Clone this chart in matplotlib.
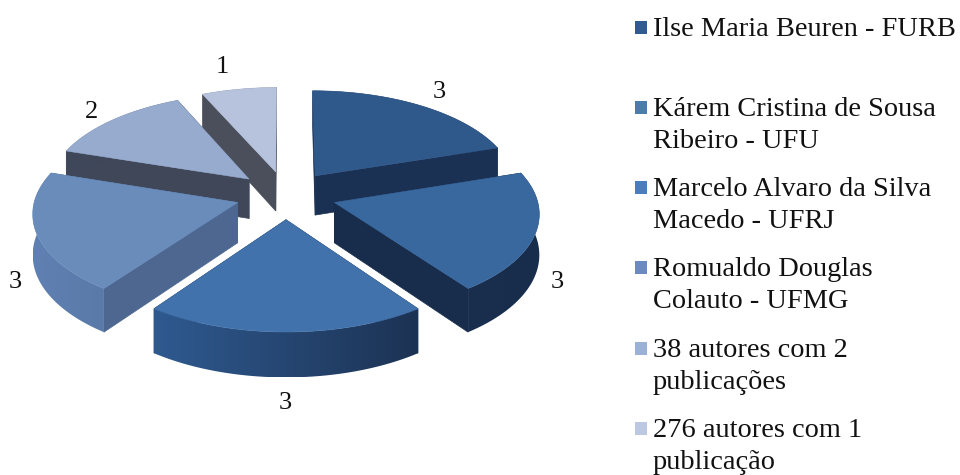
from matplotlib import pyplot as plt
from matplotlib.colors import LinearSegmentedColormap
from matplotlib.patches import Polygon, Rectangle
import numpy as np

# Datos del grafico
valores = [3, 3, 3, 3, 2, 1]
etiquetas = ["Ilse Maria Beuren - FURB",
             "Kárem Cristina de Sousa\nRibeiro - UFU",
             "Marcelo Alvaro da Silva\nMacedo - UFRJ",
             "Romualdo Douglas\nColauto - UFMG",
             "38 autores com 2\npublicações",
             "276 autores com 1\npublicação"]

# Colores: tapa, pared recta, borde curvo (izq, der), leyenda
tapas = ['#30598b', '#39689e', '#4272ab', '#6a8cbb', '#97abce', '#b7c3dc']
paredes = ['#1b3153', '#182c4c', '#1d3558', '#4d6791', '#3f4759', '#4b4f5b']
curva_izq = ['#1b3153', '#1a2e4e', '#2f5a90', '#5f80b2', '#3f4759', '#4b4f5b']
curva_der = ['#1b3153', '#182c4c', '#1c3253', '#5a7aa9', '#3f4759', '#4b4f5b']
leyenda = ['#2f5a92', '#4a7cac', '#4a7dbd', '#6c8ac2', '#9cb1d6', '#bcc8e2']

# Posiciones de los numeros sobre cada porcion
pos_numeros = [(439, 92), (557, 282), (285, 403), (15, 282), (92, 112), (222, 67)]
y_leyenda = [27, 107, 187, 267, 348, 428]

# Proyeccion del plano de la torta a pixeles
CX, CY = 286, 195
S, T, K = 202, 96.6, 0.095
ALTO = 40
EXPLOSION = 0.25


def proyectar(u, v, z=0):
    w = 1 + K * v
    return CX + S * u / w, CY - T * v / w + z * ALTO / w


plt.rcParams['font.family'] = ['Liberation Serif', 'DejaVu Serif']
fig = plt.figure(figsize=(9.6, 4.75), dpi=100)
ax = fig.add_axes([0, 0, 1, 1])

# Angulos de cada porcion, en sentido horario desde arriba
total = sum(valores)
acum = np.cumsum([0] + valores) / total * 360
inicio = 90 - acum[:-1]
fin = 90 - acum[1:]
medio = np.radians((inicio + fin) / 2)

# Se dibuja de atras hacia adelante
orden = np.argsort(-np.sin(medio))
capa = 1
for i in orden:
    ou = EXPLOSION * np.cos(medio[i])
    ov = EXPLOSION * np.sin(medio[i])
    ang = np.radians(np.linspace(inicio[i], fin[i], 60))
    u = ou + np.cos(ang)
    v = ov + np.sin(ang)

    # paredes rectas
    for j in (0, -1):
        x0, y0 = proyectar(np.array([ou, u[j]]), np.array([ov, v[j]]))
        x1, y1 = proyectar(np.array([u[j], ou]), np.array([v[j], ov]), 1)
        ax.fill(np.r_[x0, x1], np.r_[y0, y1], facecolor=paredes[i], edgecolor=paredes[i],
                linewidth=0.5, zorder=capa)
    capa += 1

    # borde curvo con degradado de izquierda a derecha
    xt, yt = proyectar(u, v)
    xb, yb = proyectar(u, v, 1)
    borde = Polygon(np.c_[np.r_[xt, xb[::-1]], np.r_[yt, yb[::-1]]], closed=True,
                    transform=ax.transData, facecolor='none', edgecolor='none')
    ax.add_patch(borde)
    cmap = LinearSegmentedColormap.from_list('borde', [curva_izq[i], curva_der[i]])
    img = ax.imshow(np.linspace(0, 1, 256).reshape(1, -1), cmap=cmap, aspect='auto',
                    extent=(xt.min(), xt.max(), yb.max(), yt.min()), zorder=capa)
    img.set_clip_path(borde)
    capa += 1

    # tapa
    xa, ya = proyectar(ou, ov)
    ax.fill(np.r_[xa, xt], np.r_[ya, yt], facecolor=tapas[i], edgecolor=tapas[i],
            linewidth=0.4, zorder=capa)
    capa += 1

ax.set_xlim(0, 960)
ax.set_ylim(475, 0)
ax.axis('off')

# Numeros
for valor, (x, y) in zip(valores, pos_numeros):
    ax.text(x, y, str(valor), fontsize=19, ha='center', va='center', color='#111111', zorder=capa)

# Leyenda
for etiqueta, color, y in zip(etiquetas, leyenda, y_leyenda):
    ax.add_patch(Rectangle((635, y - 6.5), 12, 13, facecolor=color, edgecolor='none', zorder=capa))
    ax.text(653, y - 10, etiqueta, fontsize=20.4, va='top', ha='left', color='#111111',
            linespacing=1.38, zorder=capa)

fig.savefig('out.png', dpi=100)
